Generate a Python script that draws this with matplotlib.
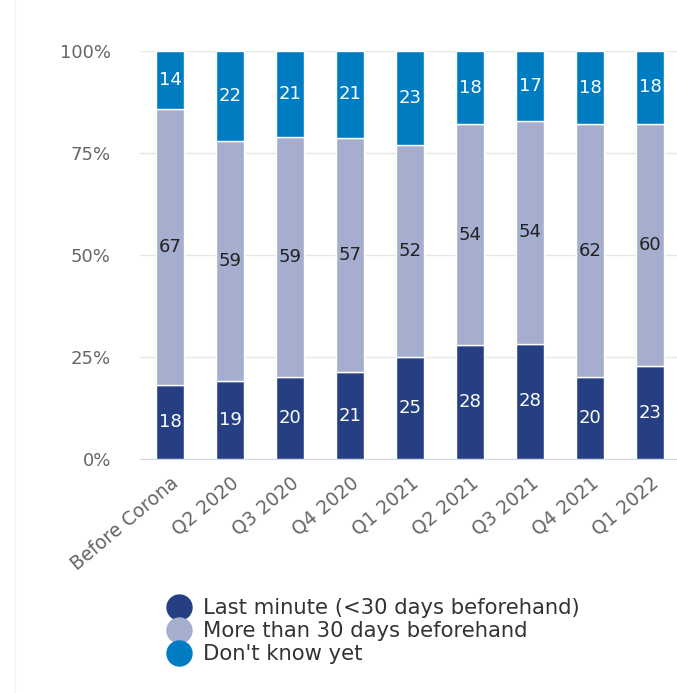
import matplotlib
matplotlib.use("Agg")
import matplotlib.pyplot as plt
import matplotlib.transforms as mtransforms
from matplotlib.lines import Line2D
import numpy as np

categories = ["Before Corona", "Q2 2020", "Q3 2020", "Q4 2020", "Q1 2021",
              "Q2 2021", "Q3 2021", "Q4 2021", "Q1 2022"]
last_minute = [18, 19, 20, 21, 25, 28, 28, 20, 23]
more_than_30 = [67, 59, 59, 57, 52, 54, 54, 62, 60]
dont_know = [14, 22, 21, 21, 23, 18, 17, 18, 18]
series_names = ["Last minute (<30 days beforehand)", "More than 30 days beforehand", "Don't know yet"]
colors = ["#253F82", "#A6AECF", "#007CC2"]
label_colors = ["white", "#222222", "white"]
yticks = [0, 0.25, 0.5, 0.75, 1.0]
ytick_labels = ["0%", "25%", "50%", "75%", "100%"]

plt.rcParams['font.family'] = ['DejaVu Sans']

W, H = 677, 693
fig = plt.figure(figsize=(W / 100, H / 100), dpi=100)
ax = fig.add_axes([140 / W, 1 - 459 / H, 540 / W, 408 / H])

data = np.array([last_minute, more_than_30, dont_know], dtype=float)
totals = data.sum(axis=0)
frac = data / totals
x = np.arange(len(categories))
bottom = np.zeros(len(categories))
for i in range(3):
    ax.bar(x, frac[i], bottom=bottom, width=0.48, color=colors[i],
           edgecolor="white", linewidth=1.0, zorder=3)
    for j in range(len(categories)):
        ax.text(x[j], bottom[j] + frac[i][j] / 2, f"{int(data[i][j])}",
                ha="center", va="center", color=label_colors[i], fontsize=13, zorder=4)
    bottom += frac[i]

ax.set_xlim(-0.5, 8.5)
ax.set_ylim(0, 1)
ax.set_yticks(yticks)
ax.set_yticklabels(ytick_labels, color="#666666", fontsize=13)
ax.set_xticks(x)
ax.set_xticklabels(categories, rotation=40, ha="right", rotation_mode="anchor",
                   color="#666666", fontsize=13.5)
offset = mtransforms.ScaledTranslation(10 / 100, 0, fig.dpi_scale_trans)
for lbl in ax.get_xticklabels():
    lbl.set_transform(lbl.get_transform() + offset)
ax.tick_params(axis="both", length=0)
ax.tick_params(axis="y", pad=21)
ax.tick_params(axis="x", pad=10)
for s in ["top", "right", "left"]:
    ax.spines[s].set_visible(False)
ax.spines["bottom"].set_color("#CCD6EB")
ax.grid(axis="y", color="#E6E6E6", linewidth=1, zorder=0)
ax.set_axisbelow(True)

handles = [Line2D([0], [0], marker="o", linestyle="", markersize=18,
                  markerfacecolor=c, markeredgecolor=c) for c in colors]
fig.legend(handles, series_names, loc="upper left", bbox_to_anchor=(168 / W, 1 - 598 / H),
           frameon=False, fontsize=15.2, handletextpad=0.65, labelspacing=0.15,
           labelcolor="#333333", borderaxespad=0, borderpad=0, handlelength=1.0)

fig.add_artist(Line2D([15 / W, 15 / W], [0, 1], color="#F2F2F2", linewidth=1))
fig.savefig("out.png", dpi=100)
